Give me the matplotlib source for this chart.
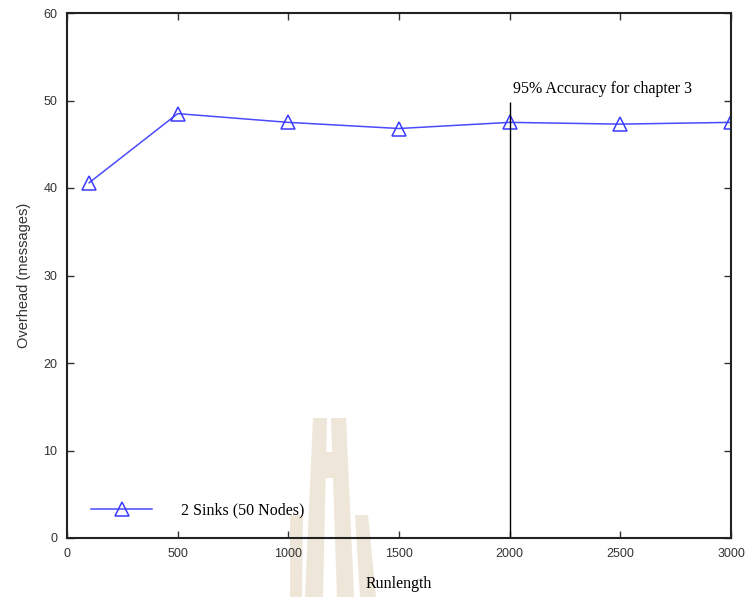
import matplotlib

matplotlib.use("Agg")
import matplotlib.pyplot as plt
from matplotlib.patches import Polygon

runlength = [100, 500, 1000, 1500, 2000, 2500, 3000]
overhead = [40.6, 48.5, 47.5, 46.8, 47.5, 47.3, 47.5]
series_label = "2 Sinks (50 Nodes)"

marker_x = 2000
marker_top = 49.8
marker_text = "95% Accuracy for chapter 3"

x_ticks = [0, 500, 1000, 1500, 2000, 2500, 3000]
y_ticks = [0, 10, 20, 30, 40, 50, 60]

W, H = 747, 597
fig = plt.figure(figsize=(W / 100, H / 100), dpi=100)
ax = fig.add_axes([67 / W, 1 - 538 / H, (731 - 67) / W, (538 - 13) / H])

# faint logo in the background
wm = "#eee6d8"
shapes = [
    [(313, 418), (327, 418), (323, 597), (305, 597)],
    [(331, 418), (346, 418), (354, 597), (337, 597)],
    [(322, 452), (336, 452), (338, 478), (322, 478)],
    [(355, 515), (368, 515), (376, 597), (360, 597)],
    [(290, 515), (303, 515), (302, 597), (290, 597)],
]
for pts in shapes:
    fig.patches.append(Polygon([(x / W, 1 - y / H) for x, y in pts],
                               closed=True, transform=fig.transFigure,
                               facecolor=wm, edgecolor="none", zorder=-1))
ax.set_facecolor("none")

ax.plot(runlength, overhead, color="#4a4aff", linewidth=1.1,
        marker="^", markersize=10.5, markerfacecolor="none",
        markeredgecolor="#3a3aff", markeredgewidth=1.1, label=series_label)

ax.vlines(marker_x, 0, marker_top, color="black", linewidth=1.0)
ax.text(marker_x + 15, marker_top + 0.6, marker_text, fontsize=11.5,
        family="Liberation Serif", ha="left", va="bottom")

ax.set_xlim(0, 3000)
ax.set_ylim(0, 60)
ax.set_xticks(x_ticks)
ax.set_yticks(y_ticks)
ax.tick_params(direction="in", length=5, width=1, top=True, right=True,
               labelsize=9, labelcolor="#333333", color="#333333", pad=7)
for lab in ax.get_xticklabels() + ax.get_yticklabels():
    lab.set_family("Liberation Sans")
for sp in ax.spines.values():
    sp.set_linewidth(1.5)
    sp.set_color("#222222")

ax.set_xlabel("Runlength", fontsize=11.5, family="Liberation Serif", labelpad=12)
ax.set_ylabel("Overhead (messages)", fontsize=10.5, family="Liberation Sans",
              color="#333333", labelpad=9)

ax.legend(loc="lower left", frameon=False, handlelength=3.8, handletextpad=1.8,
          bbox_to_anchor=(0.015, 0.01),
          prop={"family": "Liberation Serif", "size": 11.5})

fig.savefig("out.png", dpi=100)
